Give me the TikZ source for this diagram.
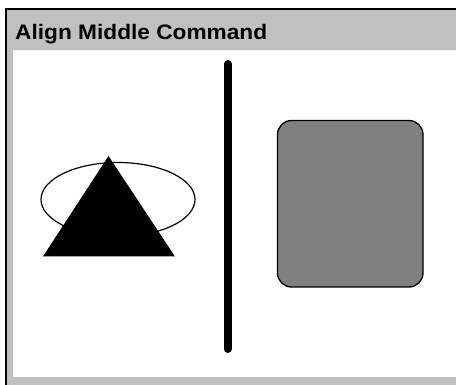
\documentclass[tikz,border=0pt]{standalone}
\usepackage{fontspec}
\setsansfont{Liberation Sans}
\definecolor{barGray}{HTML}{C0C0C0}
\definecolor{boxGray}{HTML}{808080}
\begin{document}
\begin{tikzpicture}[x=1pt,y=-1pt,
  titletext/.style={font=\sffamily\bfseries\fontsize{21}{21}\selectfont, anchor=base west, inner sep=0pt, xscale=1.08, transform shape},
  outline/.style={draw=black, line width=1.3pt}]
\useasboundingbox (0,0) rectangle (456,385);
\fill[white] (0,0) rectangle (456,385);
% frame
\fill[barGray] (6,9) rectangle (456,50.5);
\fill[barGray] (6,50) rectangle (12.5,385);
\fill[barGray] (6,377) rectangle (456,385);
\draw[white!90!gray, line width=1pt] (12.5,51) -- (456,51);
\fill[black] (5,8) rectangle (456,10);
\fill[black] (5,8) rectangle (7,385);
% title
\node[titletext] (title) at (15,40) {Align Middle Command};
% ellipse
\draw[black, line width=1.2pt] (118,199.5) ellipse [x radius=77, y radius=37];
% triangle
\fill[black] (108.5,156) -- (175,256.5) -- (43,256.5) -- cycle;
% vertical divider
\draw[black, line width=8pt, line cap=round] (227.5,64) -- (227.5,349);
% rounded rectangle
\draw[outline, fill=boxGray, rounded corners=14pt] (277.5,120.5) rectangle (423,287);
\end{tikzpicture}
\end{document}
